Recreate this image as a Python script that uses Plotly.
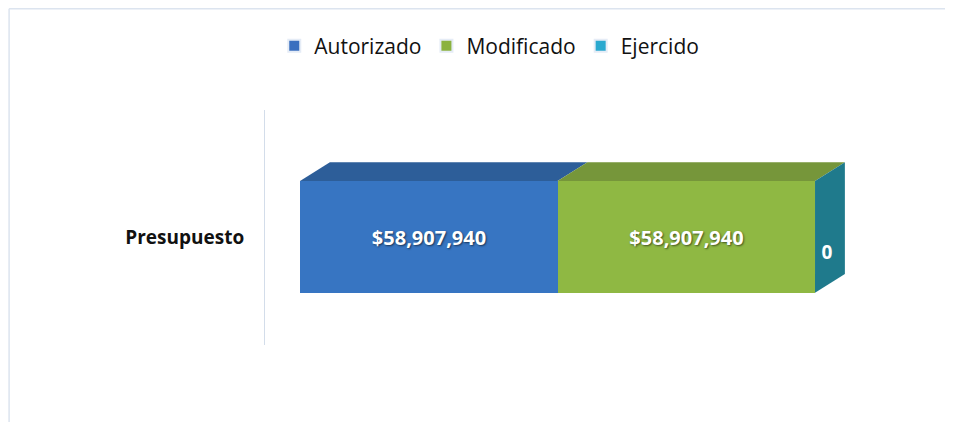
import plotly.graph_objects as go

# Datos del presupuesto
categorias = ["Presupuesto"]
series = ["Autorizado", "Modificado", "Ejercido"]
autorizado = [58907940]
modificado = [58907940]
ejercido = [0]

valores = [autorizado, modificado, ejercido]
colores_frente = ["#3775C2", "#8FB843", "#1F7A8C"]
colores_arriba = ["#2D5E99", "#76963A", "#1C6B7A"]
colores_leyenda = ["#3A6FBF", "#8BB23F", "#2AA9CF"]

FUENTE = "Open Sans"
ANCHO_BARRA = 0.95
total = autorizado[0] + modificado[0] + ejercido[0]
PROF_X = 0.058 * total   # desplazamiento de profundidad (efecto 3D)
PROF_Y = 0.16

fig = go.Figure()

# Caras frontales: barras apiladas
for nombre, vals, cf in zip(series, valores, colores_frente):
    textos = [f"${v:,.0f}" if v else "" for v in vals]
    fig.add_trace(go.Bar(
        y=[0], x=vals, name=nombre, orientation="h",
        width=ANCHO_BARRA,
        marker=dict(color=cf, line=dict(width=0)),
        text=textos,
        textposition="inside" if vals[0] else "none",
        insidetextanchor="middle",
        textfont=dict(family=FUENTE, size=20, color="white", weight="bold",
                      shadow="1px 1px 2px rgba(0,0,0,0.55)"),
        showlegend=False,
        hoverinfo="skip",
    ))

# Caras superiores (calculadas a partir de los valores)
y0 = ANCHO_BARRA / 2
acum = 0
for vals, ca in zip(valores, colores_arriba):
    ini, fin = acum, acum + vals[0]
    acum = fin
    if vals[0] == 0:
        continue
    fig.add_trace(go.Scatter(
        x=[ini, fin, fin + PROF_X, ini + PROF_X, ini],
        y=[y0, y0, y0 + PROF_Y, y0 + PROF_Y, y0],
        fill="toself", fillcolor=ca, mode="lines", line=dict(width=0),
        showlegend=False, hoverinfo="skip", cliponaxis=False,
    ))

# Cara lateral derecha (Ejercido)
fig.add_trace(go.Scatter(
    x=[acum, acum + PROF_X, acum + PROF_X, acum, acum],
    y=[y0, y0 + PROF_Y, -y0 + PROF_Y, -y0, y0],
    fill="toself", fillcolor=colores_frente[2], mode="lines", line=dict(width=0),
    showlegend=False, hoverinfo="skip", cliponaxis=False,
))

# Etiqueta "0" del ejercido sobre la cara lateral
fig.add_trace(go.Scatter(
    x=[acum + PROF_X * 0.4], y=[-0.15], mode="text",
    text=[f"{ejercido[0]:,.0f}"],
    textfont=dict(family=FUENTE, size=19, color="white", weight="bold"),
    showlegend=False, hoverinfo="skip", cliponaxis=False,
))

# Entradas de la leyenda
for nombre, cl in zip(series, colores_leyenda):
    fig.add_trace(go.Bar(
        y=[None], x=[None], name=nombre, orientation="h",
        marker=dict(color=cl), showlegend=True,
    ))

fig.update_layout(
    width=953, height=422,
    barmode="stack",
    bargap=0,
    plot_bgcolor="white", paper_bgcolor="white",
    margin=dict(l=257, r=61, t=102, b=85),
    font=dict(family=FUENTE, color="#111111"),
    legend=dict(
        orientation="h", xref="container", yref="container",
        x=0.505, xanchor="center", y=0.958, yanchor="top",
        font=dict(family=FUENTE, size=21, color="#111111"),
        itemsizing="constant", traceorder="normal", itemwidth=30,
    ),
    xaxis=dict(
        range=[-0.068 * total, 1.165 * total],
        showgrid=False, zeroline=False, showticklabels=False, showline=False,
    ),
    yaxis=dict(
        range=[-0.92, 1.08],
        tickvals=[0], ticktext=[f"<b>{categorias[0]}</b>"],
        tickfont=dict(family=FUENTE, size=19, color="#111111"),
        showgrid=False, zeroline=False,
        showline=True, linecolor="#D3DDEA", linewidth=1,
        ticks="", ticklabelstandoff=16,
    ),
    shapes=[
        dict(type="line", xref="paper", yref="paper",
             x0=-0.403, x1=1.2, y0=1.431, y1=1.431,
             line=dict(color="#DCE4EF", width=1.5)),
        dict(type="line", xref="paper", yref="paper",
             x0=-0.403, x1=-0.403, y0=1.431, y1=-0.4,
             line=dict(color="#DCE4EF", width=1.5)),
    ],
)

fig.write_html("out.html")
